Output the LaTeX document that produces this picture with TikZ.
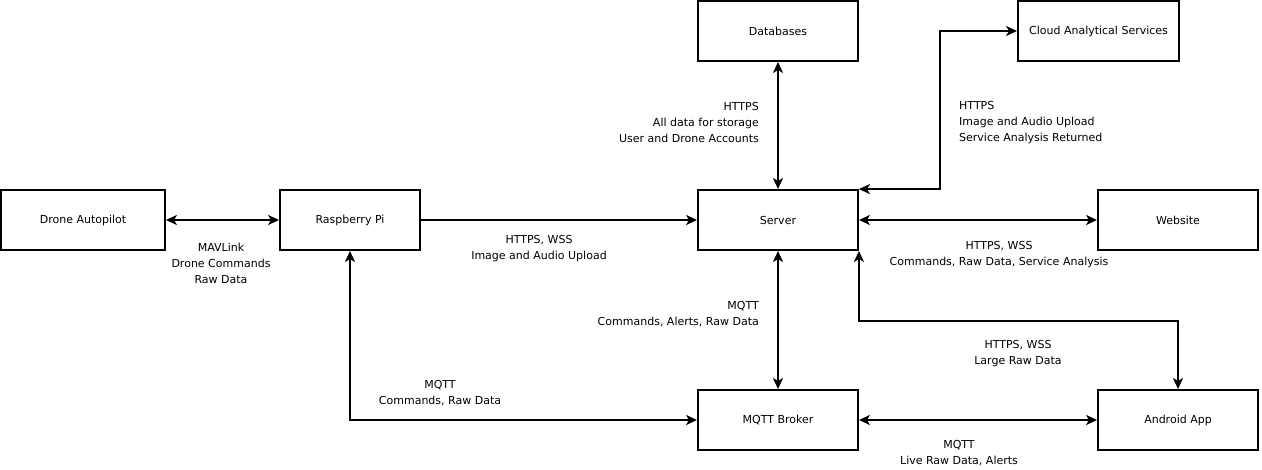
\documentclass[tikz,border=0pt]{standalone}
\usepackage{fontspec}
\setmainfont{DejaVu Sans}
\usepackage{tikz}
\usetikzlibrary{arrows.meta,positioning,calc}

\begin{document}
\begin{tikzpicture}[x=1pt, y=-1pt, font=\fontsize{11}{16}\selectfont,
    box/.style={draw, line width=1.9pt, minimum height=60pt, inner sep=0pt},
    link/.style={line width=1.9pt, -{Stealth[length=11pt,width=10pt,inset=3pt]}},
    biLink/.style={line width=1.9pt, {Stealth[length=11pt,width=10pt,inset=3pt]}-{Stealth[length=11pt,width=10pt,inset=3pt]}},
    lbl/.style={align=center, inner sep=0pt}]
  \useasboundingbox (0,0) rectangle (1262,469);
  % Blocks
  \node[box, minimum width=164pt] (drone) at (83,220) {Drone Autopilot};
  \node[box, minimum width=140pt] (rpi) at (350,220) {Raspberry Pi};
  \node[box, minimum width=160pt] (server) at (778,220) {Server};
  \node[box, minimum width=160pt] (db) at (778,31) {Databases};
  \node[box, minimum width=161pt] (cloud) at (1098.5,31) {Cloud Analytical Services};
  \node[box, minimum width=160pt] (web) at (1178,220) {Website};
  \node[box, minimum width=160pt] (broker) at (778,420) {MQTT Broker};
  \node[box, minimum width=160pt] (android) at (1178,420) {Android App};
  % Connectors
  \draw[biLink] (drone) -- (rpi);
  \draw[link] (rpi) -- (server);
  \draw[biLink] (db) -- (server);
  \draw[biLink] (server.north east) -- ++(81,0) |- (cloud.west);
  \draw[biLink] (server) -- (web);
  \draw[biLink] (server.south east) -- ++(0,70) -| (android.north);
  \draw[biLink] (server) -- (broker);
  \draw[biLink] (rpi.south) |- (broker.west);
  \draw[biLink] (broker) -- (android);
  % Labels
  \node[lbl] (lblMav) at (221,263) {MAVLink\\Drone Commands\\Raw Data};
  \node[lbl] (lblUp) at (539,249) {HTTPS, WSS\\Image and Audio Upload};
  \node[lbl, align=right, anchor=east] (lblDb) at (759,122.5) {HTTPS\\All data for storage\\User and Drone Accounts};
  \node[lbl, align=left, anchor=west] (lblCloud) at (959,122.5) {HTTPS\\Image and Audio Upload\\Service Analysis Returned};
  \node[lbl] (lblWeb) at (999,255) {HTTPS, WSS\\Commands, Raw Data, Service Analysis};
  \node[lbl, align=right, anchor=east] (lblBroker) at (759,314) {MQTT\\Commands, Alerts, Raw Data};
  \node[lbl] (lblApp) at (1018,354) {HTTPS, WSS\\Large Raw Data};
  \node[lbl] (lblPi) at (440,393) {MQTT\\Commands, Raw Data};
  \node[lbl] (lblLive) at (959,453) {MQTT\\Live Raw Data, Alerts};
\end{tikzpicture}
\end{document}
